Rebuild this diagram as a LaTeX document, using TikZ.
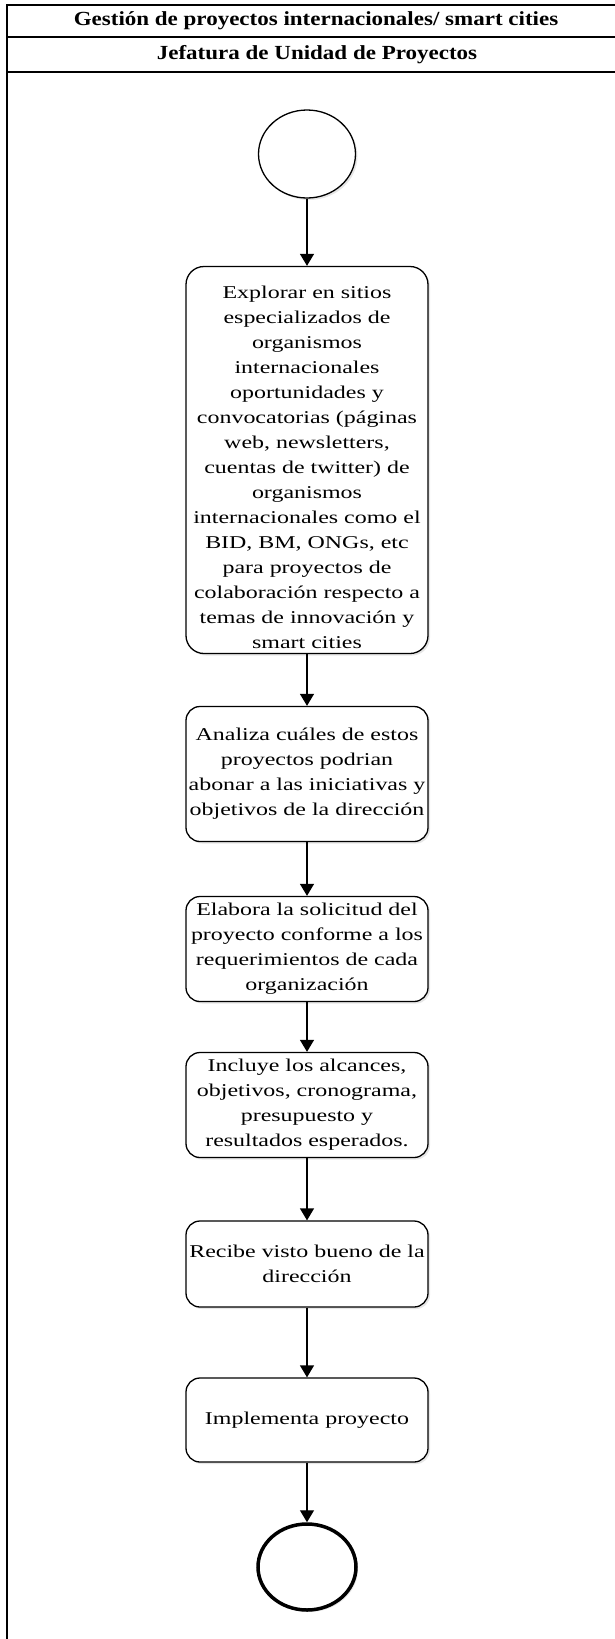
\documentclass[tikz,border=0pt]{standalone}
\usepackage{fontspec}
\setmainfont{Liberation Serif}
\newfontfamily\flowfont[FakeStretch=1.33]{Liberation Serif}
\newfontfamily\hdrfont[FakeStretch=1.15]{Liberation Serif}
\usetikzlibrary{shapes.geometric,arrows.meta,shadows}
\tikzset{
  actbox/.style={draw, line width=1.3pt, rounded corners=14pt, fill=white,
    minimum width=242pt, align=center, inner sep=2pt,
    font=\flowfont\fontsize{18}{25}\selectfont,
    drop shadow={opacity=0.2, shadow xshift=2pt, shadow yshift=-2pt}},
  flow/.style={draw, line width=1.3pt, -{Triangle[width=14pt,length=12pt]}},
  hdr/.style={font=\hdrfont\bfseries\fontsize{20}{24}\selectfont, inner sep=0pt}
}

\begin{document}
\begin{tikzpicture}[x=1pt,y=-1pt]
  \useasboundingbox (0,0) rectangle (615,1639);
  % pool frame
  \draw[line width=1.5pt] (615,5) -- (7,5) -- (7,1639);
  \draw[line width=1.5pt] (7,37) -- (615,37);
  \draw[line width=1.5pt] (7,72) -- (615,72);
  \node[hdr] (pool) at (316,21) {Gestión de proyectos internacionales/ smart cities};
  \node[hdr] (lane) at (317,55) {Jefatura de Unidad de Proyectos};

  % flow
  \node[ellipse, draw, line width=1.3pt, fill=white, minimum width=97pt,
        minimum height=88pt, inner sep=0pt,
        drop shadow={opacity=0.2, shadow xshift=2pt, shadow yshift=-2pt}] (inicio) at (307,154) {};
  \node[actbox, minimum height=387pt, rounded corners=18pt] (explorar) at (307,460) {
    \rule{0pt}{28pt}Explorar en sitios\\
    especializados de\\
    organismos\\
    internacionales\\
    oportunidades y\\
    convocatorias (páginas\\
    web, newsletters,\\
    cuentas de twitter) de\\
    organismos\\
    internacionales como el\\
    BID, BM, ONGs, etc\\
    para proyectos de\\
    colaboración respecto a\\
    temas de innovación y\\
    smart cities};
  \node[actbox, minimum height=135pt] (analiza) at (307,774) {
    Analiza cuáles de estos\\
    proyectos podrian\\
    abonar a las iniciativas y\\
    objetivos de la dirección};
  \node[actbox, minimum height=105pt] (elabora) at (307,949) {
    Elabora la solicitud del\\
    proyecto conforme a los\\
    requerimientos de cada\\
    organización};
  \node[actbox, minimum height=105pt] (incluye) at (307,1105) {
    Incluye los alcances,\\
    objetivos, cronograma,\\
    presupuesto y\\
    resultados esperados.};
  \node[actbox, minimum height=86pt] (recibe) at (307,1264) {
    Recibe visto bueno de la\\
    dirección};
  \node[actbox, minimum height=84pt] (implementa) at (307,1420) {Implementa proyecto};
  \node[ellipse, draw, line width=3.5pt, fill=white, minimum width=98pt,
        minimum height=86pt, inner sep=0pt,
        drop shadow={opacity=0.2, shadow xshift=2pt, shadow yshift=-2pt}] (fin) at (307,1567) {};

  \draw[flow] (inicio.south) -- (explorar.north);
  \draw[flow] (explorar.south) -- (analiza.north);
  \draw[flow] (analiza.south) -- (elabora.north);
  \draw[flow] (elabora.south) -- (incluye.north);
  \draw[flow] (incluye.south) -- (recibe.north);
  \draw[flow] (recibe.south) -- (implementa.north);
  \draw[flow] (implementa.south) -- (fin.north);
\end{tikzpicture}
\end{document}
